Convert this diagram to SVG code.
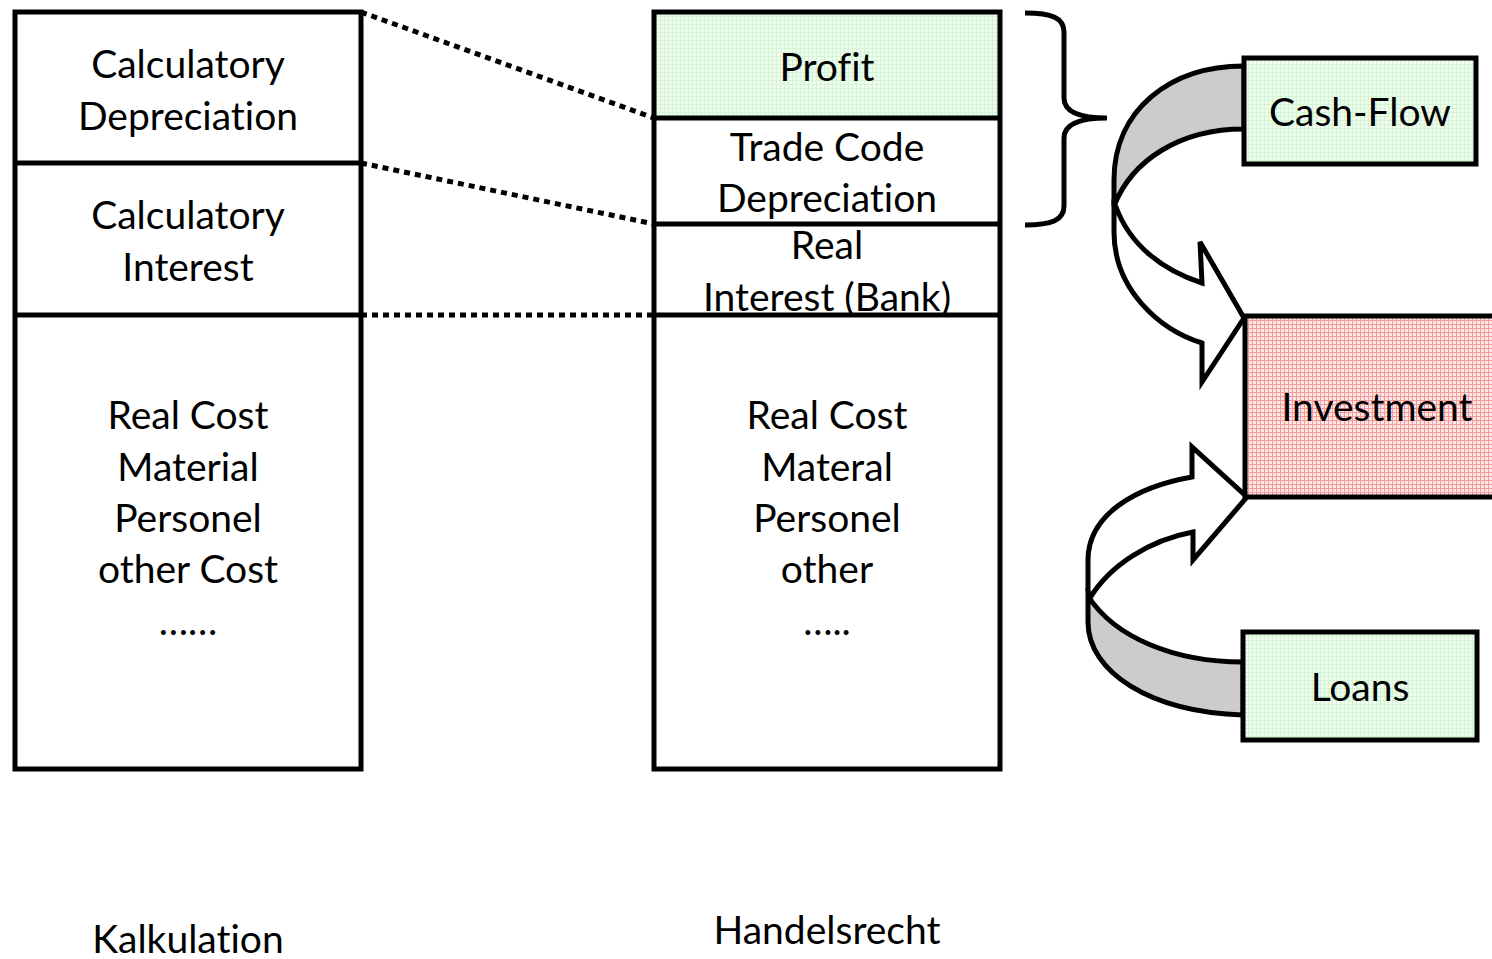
<svg xmlns="http://www.w3.org/2000/svg" width="1492" height="959" viewBox="0 0 1492 959">
<style>
.box{stroke:#000;stroke-width:5}
.ln{stroke:#000;stroke-width:5;fill:none}
.dot{stroke:#000;stroke-width:5;fill:none;stroke-dasharray:6 5}
text{font-family:Lato,"Liberation Sans",sans-serif;font-size:39px;fill:#000;text-anchor:middle;font-variant-ligatures:none;font-feature-settings:"liga" 0}
.arr{stroke:#000;stroke-width:5;stroke-linejoin:miter}
</style>
<defs>
<pattern id="pk" width="4" height="4" patternUnits="userSpaceOnUse"><rect width="4" height="4" fill="#fde6e6"/><rect width="4" height="1" fill="#f59a9a"/><rect width="1" height="4" fill="#f59a9a"/></pattern>
<pattern id="gr" width="4" height="4" patternUnits="userSpaceOnUse"><rect width="4" height="4" fill="#f2fdf2"/><rect width="4" height="1" fill="#d3f5d3"/><rect width="1" height="4" fill="#d3f5d3"/></pattern>
</defs>
<rect width="1492" height="959" fill="#fff"/>

<g id="connectors">
<path class="dot" d="M361,12 L654,118"/>
<path class="dot" d="M361,163 L654,224"/>
<path class="dot" d="M361,315 L654,315"/>
<path class="ln" d="M1025,13 C1052,13 1064,18 1064,32 L1064,98 C1064,112 1080,118 1107,118 C1080,118 1064,124 1064,138 L1064,206 C1064,220 1052,225 1025,225"/>
<path class="arr" fill="#fff" d="M1114,205 L1114,232 C1114,290 1160,330 1202,343 L1202,382 L1244,318 L1200,242 L1202,283 C1162,270 1130,245 1116,207 Z"/>
<path class="arr" fill="#cccccc" d="M1244,66 C1170,66 1114,110 1114,180 L1114,206 C1132,160 1180,129 1244,129 Z"/>
<path class="arr" fill="#fff" d="M1090,598 L1088,590 L1088,560 C1088,515 1135,487 1192,477 L1192,447 L1247,497 L1193,560 L1193,532 C1150,540 1110,565 1090,598 Z"/>
<path class="arr" fill="#cccccc" d="M1243,715 C1150,712 1088,672 1088,622 L1088,596 C1115,638 1175,662 1243,662 Z"/>
</g>

<g id="kalkulation">
<rect class="box" x="15" y="12" width="346" height="757" fill="none"/>
<path class="ln" d="M15,163 H361 M15,315 H361"/>
<text x="188" y="78">Calculatory</text>
<text x="188" y="130">Depreciation</text>
<text x="188" y="229">Calculatory</text>
<text x="188" y="281">Interest</text>
<text x="188" y="429">Real Cost</text>
<text x="188" y="481">Material</text>
<text x="188" y="532">Personel</text>
<text x="188" y="583">other Cost</text>
<text x="188" y="635">……</text>
</g>

<g id="handelsrecht">
<rect x="654" y="12" width="346" height="106" fill="url(#gr)"/>
<rect class="box" x="654" y="12" width="346" height="757" fill="none"/>
<path class="ln" d="M654,118 H1000 M654,224 H1000 M654,315 H1000"/>
<text x="827" y="81">Profit</text>
<text x="827" y="161">Trade Code</text>
<text x="827" y="212">Depreciation</text>
<text x="827" y="259">Real</text>
<text x="827" y="311">Interest (Bank)</text>
<text x="827" y="429">Real Cost</text>
<text x="827" y="481">Materal</text>
<text x="827" y="532">Personel</text>
<text x="827" y="583">other</text>
<text x="827" y="635">…..</text>
</g>

<g id="cashflow">
<rect class="box" x="1244" y="58" width="232" height="106" fill="url(#gr)"/>
<text x="1360" y="126">Cash-Flow</text>
</g>

<g id="investment">
<rect class="box" x="1245" y="316" width="260" height="181" fill="url(#pk)"/>
<text x="1377" y="421">Investment</text>
</g>

<g id="loans">
<rect class="box" x="1243" y="632" width="234" height="108" fill="url(#gr)"/>
<text x="1360" y="701">Loans</text>
</g>

<g id="labels">
<text x="188" y="953">Kalkulation</text>
<text x="827" y="944">Handelsrecht</text>
</g>
</svg>
